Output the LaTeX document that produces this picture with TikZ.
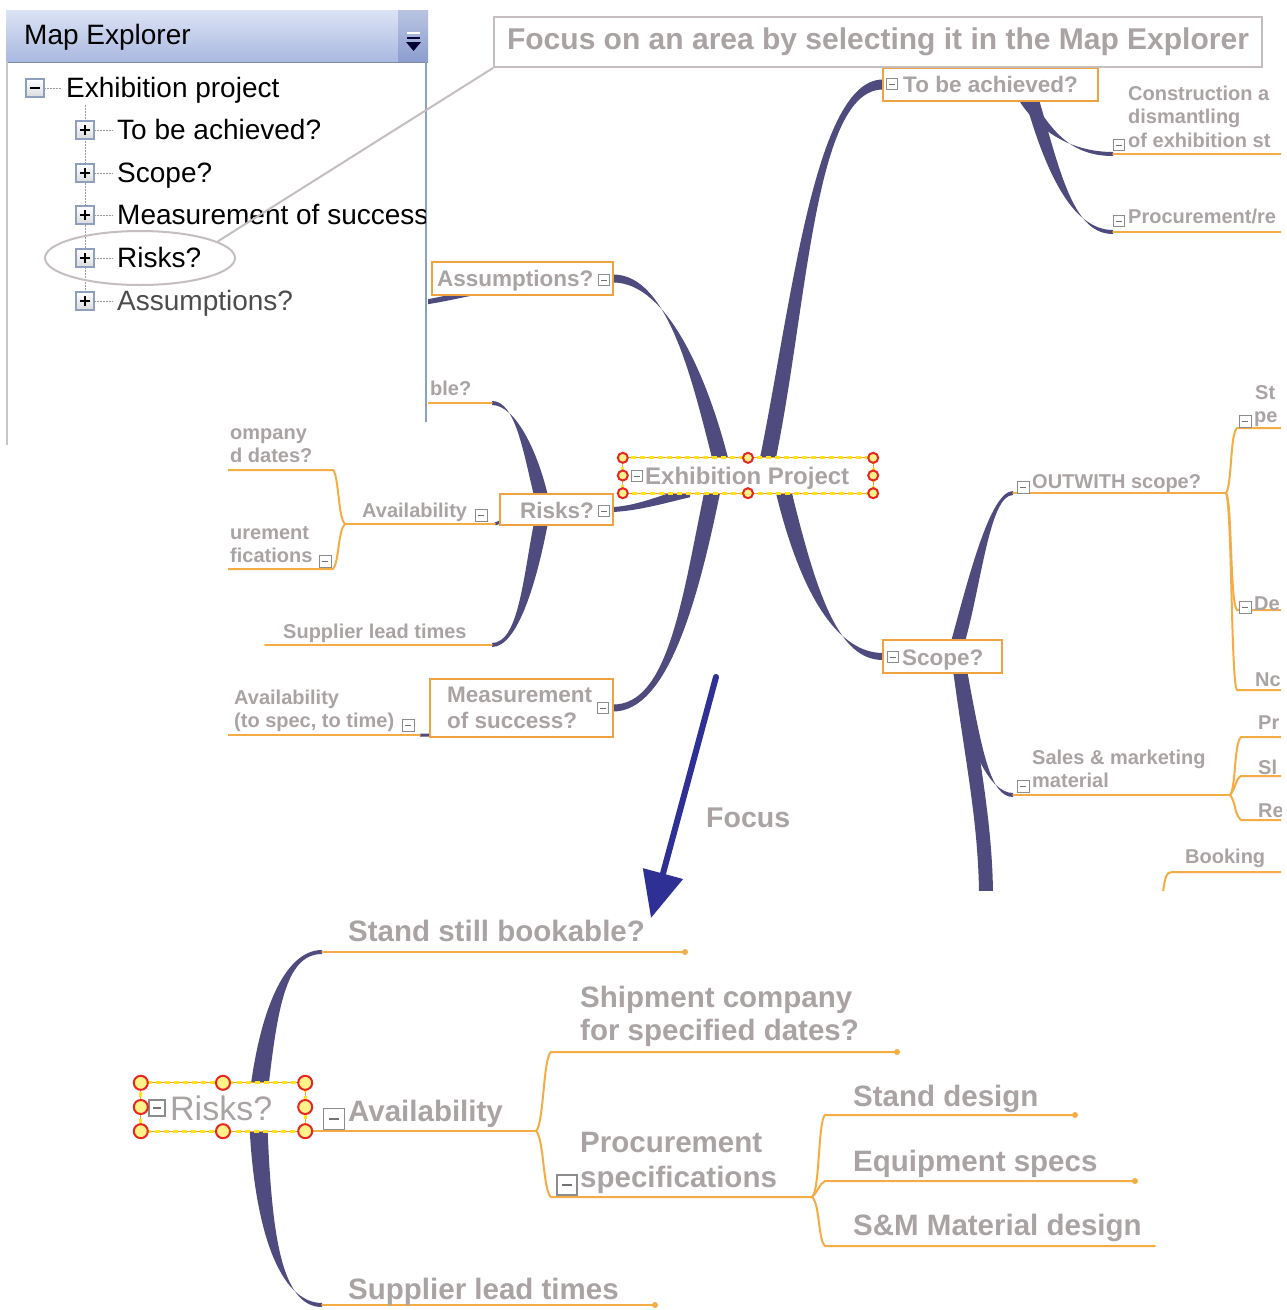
\documentclass[tikz,border=0pt]{standalone}
\usepackage{fontspec}
\setmainfont{Liberation Sans}
\usetikzlibrary{calc,arrows.meta,shapes.geometric}
\definecolor{brc}{HTML}{4F4B7F}
\definecolor{org}{HTML}{F4AD45}
\definecolor{orgbox}{HTML}{EFA340}
\definecolor{tg}{HTML}{AAA3A3}
\definecolor{hdtop}{HTML}{DCE3F5}
\definecolor{hdbot}{HTML}{A9B8E0}
\definecolor{btn}{HTML}{8C9DCF}
\definecolor{arrowc}{HTML}{2E3095}
\definecolor{selred}{HTML}{E6261F}
\definecolor{selyel}{HTML}{FFE417}
\definecolor{boxedge}{HTML}{8F9FBF}
\definecolor{calloutc}{HTML}{C5BEBE}
\newcommand\fsz[1]{\fontsize{#1}{#1}\selectfont}
\newcommand\branch[6]{\fill[brc] ($(#1)+(#5)$) .. controls ($(#2)+(#5)$) and ($(#3)+(#6)$) .. ($(#4)+(#6)$) -- ($(#4)-(#6)$) .. controls ($(#3)-(#6)$) and ($(#2)-(#5)$) .. ($(#1)-(#5)$) -- cycle;}
\newcommand\minicon[4]{\draw[icon, line width=#4] ({#1-#3/2},{#2-#3/2}) rectangle ({#1+#3/2},{#2+#3/2}); \draw[black!55, line width=#4] ({#1-#3/4},#2) -- ({#1+#3/4},#2);}
\newcommand\treebox[3]{\draw[boxedge, line width=1.2pt, top color=white, bottom color=black!14] ({#1-9},{#2-9}) rectangle ({#1+9},{#2+9}); \draw[black, line width=2pt] ({#1-5},#2) -- ({#1+5},#2); \ifnum#3=1 \draw[black,line width=2pt] (#1,{#2-5}) -- (#1,{#2+5}); \fi}
\begin{document}
\begin{tikzpicture}[x=1pt,y=-1pt,
  topic/.style={font=\bfseries\fsz{22.5}, text=tg, inner sep=0pt, anchor=base west},
  subl/.style={font=\bfseries\fsz{20}, text=tg, inner sep=0pt, anchor=base west},
  bigl/.style={font=\bfseries\fsz{29.5}, text=tg, inner sep=0pt, anchor=base west},
  treel/.style={font=\fsz{28}, text=black, inner sep=0pt, anchor=base west},
  tbox/.style={draw=orgbox, line width=2.5pt, fill=white},
  oline/.style={draw=org, line width=2pt, line cap=round},
  icon/.style={draw=black!45, fill=white},
  selframe/.style={draw=selyel, line width=3pt, dash pattern=on 5pt off 4pt},
  selbase/.style={draw=orgbox, line width=1pt},
  hnd/.style={draw=selred, line width=2pt, fill=selyel!50!white},
  dotl/.style={draw=black!40, line width=1pt, dash pattern=on 1.5pt off 1.5pt},
]
\useasboundingbox (0,0) rectangle (1286,1310);
\fill[white] (0,0) rectangle (1286,1310);

% ================= upper map =================
\begin{scope}
\clip (228,0) rectangle (1281,890);
\node[minimum width=250pt, minimum height=35pt, inner sep=0pt] (ctr) at (748,475.5) {};
\node[minimum width=215pt, minimum height=33pt, inner sep=0pt] (tba) at (990.5,84.5) {};
\node[minimum width=181pt, minimum height=33pt, inner sep=0pt] (asm) at (522.5,278.5) {};
\node[minimum width=113pt, minimum height=31pt, inner sep=0pt] (rsk) at (556.5,509.5) {};
\node[minimum width=183pt, minimum height=58pt, inner sep=0pt] (msr) at (521.5,708) {};
\node[minimum width=119pt, minimum height=33pt, inner sep=0pt] (scp) at (942.5,656.5) {};
\coordinate (b1s) at ($(ctr.north)+(20,0)$);
\coordinate (b2s) at ($(ctr.north)+(-28,0)$);
\coordinate (b3s) at ($(ctr.south)+(-58,-1)$);
\coordinate (b4s) at ($(ctr.south)+(-36,0)$);
\coordinate (b5s) at ($(ctr.south)+(36,0)$);
\coordinate (t1s) at ($(tba.south)+(36,0)$);
\coordinate (t2s) at ($(tba.south)+(42,0)$);
\coordinate (conL) at (1113,154);
\coordinate (prcL) at (1113,232);
\coordinate (r1s) at ($(rsk.north)+(-16,0)$);
\coordinate (r2s) at ($(rsk.south)+(-16,0)$);
\coordinate (bleE) at (492,403);
\coordinate (bleW) at (425,403);
\coordinate (supE) at (492,645);
\coordinate (supW) at (265,645);
\coordinate (s1s) at ($(scp.north)+(16,0)$);
\coordinate (s2s) at ($(scp.south)+(18,0)$);
\coordinate (s3s) at ($(scp.south)+(18,0)$);
\coordinate (outL) at (1013,493);
\coordinate (salL) at (1013,795);
\coordinate (scpdn) at (986,892);
\coordinate (asmS) at (470,293);
\coordinate (asmL) at (420,303);
\coordinate (avU) at (495,524);
\coordinate (avJ) at (345,524);
\coordinate (msrL) at (420,735);
\coordinate (mcW) at (228,735);
\coordinate (outJ) at (1226,493);
\coordinate (salJ) at (1230,795);

% branches
\branch{b1s}{800,300}{815,84.5}{tba.west}{8,0}{0,5}
\branch{b2s}{700,380}{668,278.5}{asm.east}{8,0}{0,4}
\branch{b3s}{665,498}{640,508}{rsk.east}{0,5}{0,2.5}
\branch{b4s}{690,600}{668,708}{msr.east}{8,0}{0,3.5}
\branch{b5s}{810,600}{840,656.5}{scp.west}{8,0}{0,3.5}
\branch{t1s}{1045,130}{1070,154}{conL}{7,0}{0,2}
\branch{t2s}{1055,180}{1075,232}{prcL}{7,0}{0,2}
\branch{r1s}{530,450}{515,403}{bleE}{7,0}{0,2}
\branch{r2s}{530,580}{518,645}{supE}{7,0}{0,2}
\branch{s1s}{975,580}{990,493}{outL}{7,0}{0,2}
\branch{s2s}{975,750}{990,795}{salL}{7,0}{0,2}
\branch{s3s}{972,760}{985,820}{scpdn}{7,0}{7,0}
\branch{asmS}{455,296}{445,299}{asmL}{0,3}{0,2.5}
\draw[brc, line width=3pt] ($(rsk.south west)+(0,-3)$) -- (avU);
\draw[brc, line width=3pt] ($(msr.south west)+(0,-2)$) -- (msrL);

% boxes
\foreach \n in {tba,asm,rsk,msr,scp} \draw[tbox] (\n.north west) rectangle (\n.south east);
\fill[white] (ctr.north west) rectangle (ctr.south east);

% orange lines
\draw[oline] (conL) -- ++(175,0);
\draw[oline] (prcL) -- ++(175,0);
\draw[oline] (bleW) -- (bleE);
\draw[oline] (supW) -- (supE);
\draw[oline] (avJ) -- (avU);
\draw[oline] (avJ) .. controls (338,518) and (339,476) .. (333,470) -- (228,470);
\draw[oline] (avJ) .. controls (338,530) and (339,563) .. (333,569) -- (228,569);
\draw[oline] (msrL) -- (mcW);
\draw[oline] (outL) -- (outJ);
\draw[oline] (outJ) .. controls (1232,485) and (1230,434) .. (1237,428) -- (1285,428);
\draw[oline] (outJ) .. controls (1232,500) and (1230,604) .. (1237,610) -- (1285,610);
\draw[oline] (outJ) .. controls (1232,505) and (1231,684) .. (1237,690) -- (1285,690);
\draw[oline] (salL) -- (salJ);
\draw[oline] (salJ) .. controls (1236,788) and (1234,743) .. (1241,737) -- (1285,737);
\draw[oline] (salJ) .. controls (1235,790) and (1236,778) .. (1241,776) -- (1285,776);
\draw[oline] (salJ) .. controls (1236,802) and (1234,814) .. (1241,820) -- (1285,820);
\draw[oline] (1163,892) .. controls (1165,878) and (1166,872) .. (1172,872) -- (1285,872);

% texts
\node[topic] (tbat) at (903,92) {To be achieved?};
\node[topic] (asmt) at (437,286) {Assumptions?};
\node[topic] (rskt) at (520,518) {Risks?};
\node[topic] (msrt1) at (447,702) {Measurement};
\node[topic] (msrt2) at (447,728) {of success?};
\node[topic] (scpt) at (902,665) {Scope?};
\node[topic, font=\bfseries\fsz{24}] (ctrt) at (645,484) {Exhibition Project};
\node[subl] (c1) at (1128,100) {Construction a};
\node[subl] (c2) at (1128,123) {dismantling};
\node[subl] (c3) at (1128,147) {of exhibition st};
\node[subl] (p1) at (1128,223) {Procurement/re};
\node[subl] (ble) at (430,395) {ble?};
\node[subl] (om) at (230,439) {ompany};
\node[subl] (dd) at (230,462) {d dates?};
\node[subl] (av1) at (362,517) {Availability};
\node[subl] (ur) at (230,539) {urement};
\node[subl] (fi) at (230,562) {fications};
\node[subl] (sl1) at (283,638) {Supplier lead times};
\node[subl] (av2) at (234,704) {Availability};
\node[subl] (ts) at (234,727) {(to spec, to time)};
\node[subl] (ow) at (1032,488) {OUTWITH scope?};
\node[subl] (st) at (1255,399) {St};
\node[subl] (pe) at (1254,422) {pe};
\node[subl] (de) at (1254,610) {De};
\node[subl] (nc) at (1255,686) {Nc};
\node[subl] (sm1) at (1032,764) {Sales \& marketing};
\node[subl] (sm2) at (1032,787) {material};
\node[subl] (pr) at (1258,729) {Pr};
\node[subl] (sl) at (1258,774) {Sl};
\node[subl] (re) at (1258,817) {Re};
\node[subl] (bk) at (1185,863) {Booking};

% icons
\minicon{892}{84}{11}{0.8pt}
\minicon{604}{280}{11}{0.8pt}
\minicon{604}{511}{11}{0.8pt}
\minicon{603}{708}{11}{0.8pt}
\minicon{893}{657}{11}{0.8pt}
\minicon{637}{476}{11}{0.8pt}
\minicon{1119}{145}{11}{0.8pt}
\minicon{1119}{221}{11}{0.8pt}
\minicon{481}{515}{12}{0.8pt}
\minicon{325}{561}{12}{0.8pt}
\minicon{408}{725}{12}{0.8pt}
\minicon{1023}{487}{12}{0.8pt}
\minicon{1245}{421}{12}{0.8pt}
\minicon{1245}{607}{12}{0.8pt}
\minicon{1023}{786}{12}{0.8pt}

% selection of the central topic
\draw[selbase] (ctr.north west) rectangle (ctr.south east);
\draw[selframe] (ctr.north west) rectangle (ctr.south east);
\foreach \a in {north west,north,north east,west,east,south west,south,south east}
  \draw[hnd] (ctr.\a) circle[radius=5pt];
\end{scope}

% ================= Map Explorer panel =================
\fill[white] (0,0) rectangle (428,422);
\shade[top color=hdtop, bottom color=hdbot] (6,10) rectangle (398,62);
\shade[top color=btn!60!white, bottom color=btn] (398,10) rectangle (428,62);
\draw[hdbot!75!black, line width=1pt] (6,62) -- (428,62);
\draw[black!22, line width=1.5pt] (7,62) -- (7,445);
\draw[boxedge, line width=2pt] (426,62) -- (426,422);
\draw[white, line width=1.5pt] (407,33) -- (420,33);
\draw[black!80!blue, line width=1.5pt] (407,38) -- (420,38);
\fill[black!80!blue] (406,42) -- (421,42) -- (413.5,51) -- cycle;
\node[treel] (hdr) at (24,44) {Map Explorer};
\draw[dotl] (44,88) -- (62,88);
\draw[dotl] (85,105) -- (85,292);
\foreach \yy in {130,173,215,258,301} \draw[dotl] (94,\yy) -- (113,\yy);
\treebox{35}{88}{0}
\treebox{85}{130}{1}
\treebox{85}{173}{1}
\treebox{85}{215}{1}
\treebox{85}{258}{1}
\treebox{85}{301}{1}
\begin{scope}
\clip (0,62) rectangle (425,430);
\node[treel] (tr0) at (66,97) {Exhibition project};
\node[treel] (tr1) at (117,139) {To be achieved?};
\node[treel] (tr2) at (117,182) {Scope?};
\node[treel] (tr3) at (117,224) {Measurement of success};
\node[treel] (tr4) at (117,267) {Risks?};
\node[treel, text=black!70] (tr5) at (117,310) {Assumptions?};
\end{scope}

% ================= callout =================
\node[ellipse, draw=calloutc, line width=2pt, minimum width=190pt, minimum height=54pt, inner sep=0pt] (sel) at (140,258) {};
\node[draw=calloutc, line width=2pt, fill=white, minimum width=768pt, minimum height=50pt, inner sep=0pt, font=\bfseries\fsz{30}, text=tg] (callout) at (878,42) {Focus on an area by selecting it in the Map Explorer};
\draw[calloutc, line width=2pt] (sel.12) -- (callout.south west);

% ================= focus arrow =================
\coordinate (fa) at (716,677);
\coordinate (fb) at (651,918);
\draw[arrowc, line width=6pt, line cap=round, -{Triangle[length=46pt,width=40pt]}] (fa) -- (fb);
\node[bigl, font=\bfseries\fsz{28.5}] (focus) at (706,827) {Focus};

% ================= lower (focused) map =================
\node[minimum width=164pt, minimum height=48pt, inner sep=0pt] (rk2) at (223,1107) {};
\coordinate (r2a) at (258,1100);
\coordinate (r2b) at (258,1114);
\coordinate (stL) at (322,952);
\coordinate (stR) at (685,952);
\coordinate (spL) at (322,1305);
\coordinate (spR) at (655,1305);
\coordinate (avL) at (307,1131);
\coordinate (J1) at (536,1131);
\coordinate (shL) at (551,1052);
\coordinate (shR) at (897,1052);
\coordinate (prL) at (551,1197);
\coordinate (J2) at (812,1197);
\coordinate (sdL) at (825,1115);
\coordinate (sdR) at (1075,1115);
\coordinate (eqL) at (825,1181);
\coordinate (eqR) at (1135,1181);
\coordinate (smL) at (825,1246);
\coordinate (smR) at (1155,1246);

\branch{r2a}{268,1010}{285,952}{stL}{9,0}{0,2}
\branch{r2b}{262,1230}{280,1305}{spL}{9,0}{0,2}
\fill[white] (rk2.north west) rectangle (rk2.south east);

\draw[oline] (stL) -- (stR); \fill[org] (stR) circle[radius=3pt];
\draw[oline] (spL) -- (spR); \fill[org] (spR) circle[radius=3pt];
\draw[oline] (avL) -- (J1);
\draw[oline] (J1) .. controls (544,1124) and (543,1058) .. (shL) -- (shR);
\fill[org] (shR) circle[radius=3pt];
\draw[oline] (J1) .. controls (544,1138) and (543,1191) .. (prL) -- (J2);
\draw[oline] (J2) .. controls (820,1190) and (818,1121) .. (sdL) -- (sdR);
\fill[org] (sdR) circle[radius=3pt];
\draw[oline] (J2) .. controls (818,1192) and (819,1184) .. (eqL) -- (eqR);
\fill[org] (eqR) circle[radius=3pt];
\draw[oline] (J2) .. controls (820,1204) and (818,1240) .. (smL) -- (smR);

\node[bigl] (lst) at (348,941) {Stand still bookable?};
\node[bigl] (lsh1) at (580,1007) {Shipment company};
\node[bigl] (lsh2) at (580,1040) {for specified dates?};
\node[bigl] (lav) at (348,1121) {Availability};
\node[bigl] (lpr1) at (580,1152) {Procurement};
\node[bigl] (lpr2) at (580,1187) {specifications};
\node[bigl] (lsd) at (853,1106) {Stand design};
\node[bigl] (leq) at (853,1171) {Equipment specs};
\node[bigl] (lsm) at (853,1235) {S\&M Material design};
\node[bigl] (lsp) at (348,1299) {Supplier lead times};
\node[text=tg, font=\fsz{34}, inner sep=0pt, anchor=base west] (lrk) at (170,1120) {Risks?};
\minicon{334}{1119}{21}{1.5pt}
\minicon{567}{1185}{20}{1.5pt}
\minicon{157}{1108}{16}{1.2pt}

\draw[selbase] (rk2.north west) rectangle (rk2.south east);
\draw[selframe] (rk2.north west) rectangle (rk2.south east);
\foreach \a in {north west,north,north east,west,east,south west,south,south east}
  \draw[hnd] (rk2.\a) circle[radius=7pt];
\end{tikzpicture}
\end{document}
